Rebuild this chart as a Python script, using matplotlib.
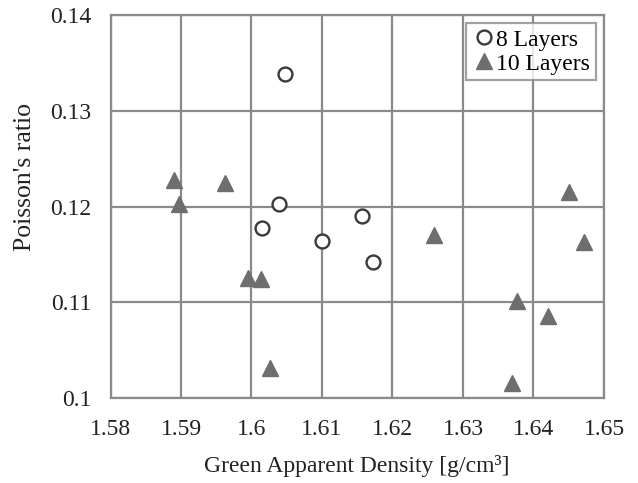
import matplotlib
matplotlib.use("Agg")
import matplotlib.pyplot as plt

# 8 layers (open circles)
x8 = [1.6047, 1.6039, 1.6015, 1.6100, 1.6157, 1.6172]
y8 = [0.1338, 0.1203, 0.1178, 0.1164, 0.1190, 0.1142]

# 10 layers (filled triangles)
x10 = [1.5890, 1.5897, 1.5963, 1.5995, 1.6014, 1.6026,
       1.6259, 1.6451, 1.6472, 1.6376, 1.6420, 1.6369]
y10 = [0.1228, 0.1203, 0.1225, 0.1126, 0.1124, 0.1032,
       0.1170, 0.1215, 0.1163, 0.1101, 0.1086, 0.1016]

xticks = [1.58, 1.59, 1.60, 1.61, 1.62, 1.63, 1.64, 1.65]
xtick_labels = ["1.58", "1.59", "1.6", "1.61", "1.62", "1.63", "1.64", "1.65"]
yticks = [0.10, 0.11, 0.12, 0.13, 0.14]
ytick_labels = ["0.1", "0.11", "0.12", "0.13", "0.14"]

plt.rcParams["font.family"] = ["Liberation Serif", "DejaVu Serif"]
GRID = "#8a8a8a"
TXT = "#222222"

fig = plt.figure(figsize=(6.38, 4.83), dpi=100)
ax = fig.add_axes([0.1732, 0.1754, 0.7735, 0.7936])

ax.plot(x8, y8, ls="none", marker="o", ms=10, mfc="white", mec="#3a3a3a",
        mew=1.7, label="8 Layers", zorder=3)
ax.plot(x10, y10, ls="none", marker="^", ms=12, mfc="#6e6e6e", mec="#6e6e6e",
        label="10 Layers", zorder=3)

ax.set_xlim(1.58, 1.65)
ax.set_ylim(0.10, 0.14)
ax.set_xticks(xticks)
ax.set_xticklabels(xtick_labels)
ax.set_yticks(yticks)
ax.set_yticklabels(ytick_labels)
ax.tick_params(length=0, labelsize=17, colors=TXT)
ax.tick_params(axis="x", pad=15)
ax.tick_params(axis="y", pad=14)
ax.grid(True, color=GRID, lw=1.6)
ax.set_axisbelow(True)
for sp in ax.spines.values():
    sp.set_color(GRID)
    sp.set_linewidth(1.6)

ax.set_xlabel("Green Apparent Density [g/cm³]", fontsize=17, labelpad=11,
              color=TXT)
fig.text(25 / 638, 1 - 177 / 483, "Poisson's ratio", fontsize=18.5,
         rotation=90, ha="center", va="center", color=TXT)

leg = ax.legend(loc="upper right", fontsize=17, frameon=True, fancybox=False,
                handletextpad=0.0, handlelength=1.0, borderpad=0.25,
                labelspacing=0.1, borderaxespad=0.35)
leg.get_frame().set_edgecolor(GRID)
leg.get_frame().set_linewidth(1.6)

fig.savefig("out.png", dpi=100)
